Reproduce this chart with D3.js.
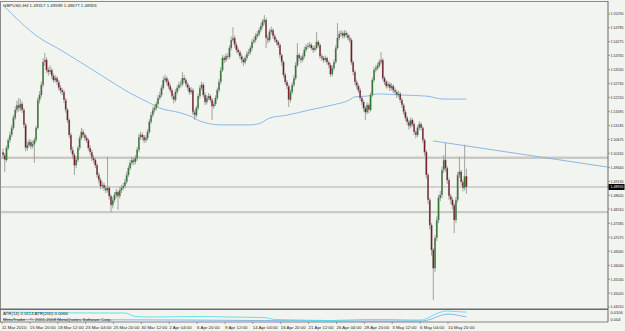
<!DOCTYPE html>
<html><head><meta charset="utf-8">
<script src="https://cdn.jsdelivr.net/npm/d3@7/dist/d3.min.js"></script>
<style>html,body{margin:0;padding:0;background:#f2f4f0;}svg{display:block;}</style>
</head><body><svg id="c" width="625" height="331"></svg>
<script>
const chartTitle = "GBPUSD,H4";
const headerOHLC = ["1.49317", "1.49599", "1.48677", "1.48926"];
const timeLabels = ["11 Mar 2010","15 Mar 20:00","18 Mar 12:00","23 Mar 04:00","25 Mar 20:00","30 Mar 12:00","2 Apr 04:00","6 Apr 20:00","9 Apr 12:00","14 Apr 04:00","16 Apr 20:00","21 Apr 12:00","26 Apr 04:00","28 Apr 20:00","3 May 12:00","6 May 04:00","10 May 20:00"];
const timeLabelBars = [0,16,32,48,64,80,96,112,128,144,160,176,192,208,224,240,256];
const priceTicks = [1.55290,1.54785,1.54275,1.53765,1.53240,1.52730,1.52220,1.51695,1.51185,1.50675,1.50165,1.49640,1.49130,1.48620,1.48110,1.47585,1.47075,1.46565,1.46040,1.45530,1.45020,1.44510];
const bidPrice = 1.48926;
const levelLines = [1.5000, 1.4800];
const trendBars = [247, 300];
const trendPrices = [1.5062, 1.5011];

const opens = [1.5020,1.5010,1.4992,1.5036,1.5065,1.5084,1.5110,1.5147,1.5176,1.5194,
1.5183,1.5198,1.5176,1.5121,1.5036,1.5047,1.5058,1.5043,1.5050,1.5065,
1.5110,1.5213,1.5231,1.5268,1.5352,1.5360,1.5323,1.5316,1.5323,1.5301,
1.5286,1.5293,1.5279,1.5257,1.5249,1.5242,1.5213,1.5176,1.5139,1.5084,
1.5029,1.5010,1.4973,1.4992,1.5036,1.5073,1.5095,1.5084,1.5073,1.5065,
1.5036,1.5021,1.4999,1.4992,1.4973,1.4937,1.4918,1.4896,1.4900,1.4889,
1.4881,1.4889,1.4859,1.4826,1.4845,1.4863,1.4874,1.4859,1.4881,1.4889,
1.4896,1.4911,1.4937,1.4962,1.4981,1.4992,1.4985,1.4999,1.5029,1.5076,
1.5084,1.5076,1.5065,1.5073,1.5095,1.5132,1.5157,1.5176,1.5183,1.5198,
1.5220,1.5231,1.5257,1.5286,1.5293,1.5279,1.5264,1.5249,1.5227,1.5213,
1.5242,1.5257,1.5268,1.5271,1.5293,1.5286,1.5271,1.5257,1.5242,1.5249,
1.5168,1.5157,1.5183,1.5227,1.5257,1.5268,1.5231,1.5205,1.5220,1.5227,
1.5213,1.5190,1.5198,1.5220,1.5249,1.5279,1.5323,1.5367,1.5360,1.5374,
1.5371,1.5404,1.5433,1.5441,1.5415,1.5397,1.5389,1.5374,1.5360,1.5352,
1.5367,1.5382,1.5389,1.5404,1.5426,1.5433,1.5448,1.5455,1.5470,1.5485,
1.5500,1.5507,1.5441,1.5433,1.5463,1.5470,1.5448,1.5433,1.5426,1.5415,
1.5378,1.5352,1.5305,1.5279,1.5264,1.5213,1.5242,1.5268,1.5293,1.5341,
1.5378,1.5367,1.5360,1.5374,1.5397,1.5408,1.5411,1.5415,1.5404,1.5397,
1.5404,1.5426,1.5415,1.5374,1.5367,1.5360,1.5367,1.5352,1.5341,1.5308,
1.5330,1.5352,1.5404,1.5441,1.5455,1.5459,1.5448,1.5459,1.5452,1.5441,
1.5433,1.5352,1.5316,1.5279,1.5264,1.5249,1.5220,1.5205,1.5183,1.5168,
1.5194,1.5176,1.5231,1.5286,1.5323,1.5330,1.5338,1.5352,1.5360,1.5293,
1.5279,1.5264,1.5271,1.5257,1.5264,1.5249,1.5242,1.5231,1.5235,1.5213,
1.5194,1.5168,1.5147,1.5132,1.5117,1.5139,1.5124,1.5095,1.5084,1.5110,
1.5124,1.5110,1.5065,1.5021,1.4937,1.4845,1.4752,1.4661,1.4594,1.4705,
1.4771,1.4852,1.4863,1.4955,1.4992,1.4962,1.4918,1.4859,1.4845,1.4826,
1.4771,1.4845,1.4937,1.4948,1.4911,1.4889,1.4932];

const closes = [1.5010,1.4992,1.5036,1.5065,1.5084,1.5110,1.5147,1.5176,1.5194,1.5183,
1.5198,1.5176,1.5121,1.5036,1.5047,1.5058,1.5043,1.5050,1.5065,1.5110,
1.5213,1.5231,1.5268,1.5352,1.5360,1.5323,1.5316,1.5323,1.5301,1.5286,
1.5293,1.5279,1.5257,1.5249,1.5242,1.5213,1.5176,1.5139,1.5084,1.5029,
1.5010,1.4973,1.4992,1.5036,1.5073,1.5095,1.5084,1.5073,1.5065,1.5036,
1.5021,1.4999,1.4992,1.4973,1.4937,1.4918,1.4896,1.4900,1.4889,1.4881,
1.4889,1.4859,1.4826,1.4845,1.4863,1.4874,1.4859,1.4881,1.4889,1.4896,
1.4911,1.4937,1.4962,1.4981,1.4992,1.4985,1.4999,1.5029,1.5076,1.5084,
1.5076,1.5065,1.5073,1.5095,1.5132,1.5157,1.5176,1.5183,1.5198,1.5220,
1.5231,1.5257,1.5286,1.5293,1.5279,1.5264,1.5249,1.5227,1.5213,1.5242,
1.5257,1.5268,1.5271,1.5293,1.5286,1.5271,1.5257,1.5242,1.5249,1.5168,
1.5157,1.5183,1.5227,1.5257,1.5268,1.5231,1.5205,1.5220,1.5227,1.5213,
1.5190,1.5198,1.5220,1.5249,1.5279,1.5323,1.5367,1.5360,1.5374,1.5371,
1.5404,1.5433,1.5441,1.5415,1.5397,1.5389,1.5374,1.5360,1.5352,1.5367,
1.5382,1.5389,1.5404,1.5426,1.5433,1.5448,1.5455,1.5470,1.5485,1.5500,
1.5507,1.5441,1.5433,1.5463,1.5470,1.5448,1.5433,1.5426,1.5415,1.5378,
1.5352,1.5305,1.5279,1.5264,1.5213,1.5242,1.5268,1.5293,1.5341,1.5378,
1.5367,1.5360,1.5374,1.5397,1.5408,1.5411,1.5415,1.5404,1.5397,1.5404,
1.5426,1.5415,1.5374,1.5367,1.5360,1.5367,1.5352,1.5341,1.5308,1.5330,
1.5352,1.5404,1.5441,1.5455,1.5459,1.5448,1.5459,1.5452,1.5441,1.5433,
1.5352,1.5316,1.5279,1.5264,1.5249,1.5220,1.5205,1.5183,1.5168,1.5194,
1.5176,1.5231,1.5286,1.5323,1.5330,1.5338,1.5352,1.5360,1.5293,1.5279,
1.5264,1.5271,1.5257,1.5264,1.5249,1.5242,1.5231,1.5235,1.5213,1.5194,
1.5168,1.5147,1.5132,1.5117,1.5139,1.5124,1.5095,1.5084,1.5110,1.5124,
1.5110,1.5065,1.5021,1.4937,1.4845,1.4752,1.4661,1.4594,1.4705,1.4771,
1.4852,1.4863,1.4955,1.4992,1.4962,1.4918,1.4859,1.4845,1.4826,1.4771,
1.4845,1.4937,1.4948,1.4911,1.4889,1.4932,1.4893];

const highs = [1.5034,1.5018,1.5045,1.5074,1.5096,1.5121,1.5158,1.5189,1.5210,1.5220,
1.5216,1.5207,1.5184,1.5128,1.5060,1.5070,1.5066,1.5062,1.5074,1.5118,
1.5222,1.5245,1.5280,1.5366,1.5386,1.5370,1.5334,1.5340,1.5330,1.5310,
1.5304,1.5300,1.5286,1.5268,1.5258,1.5250,1.5220,1.5183,1.5146,1.5092,
1.5040,1.5018,1.5004,1.5044,1.5082,1.5110,1.5106,1.5092,1.5082,1.5072,
1.5046,1.5030,1.5010,1.5000,1.4980,1.4946,1.4926,1.4912,1.4908,1.4898,
1.5003,1.4896,1.4866,1.4856,1.4874,1.4886,1.4880,1.4892,1.4900,1.4908,
1.4922,1.4948,1.4972,1.4992,1.5004,1.5000,1.5010,1.5040,1.5088,1.5096,
1.5092,1.5084,1.5084,1.5106,1.5142,1.5168,1.5188,1.5196,1.5208,1.5232,
1.5244,1.5268,1.5298,1.5305,1.5300,1.5288,1.5272,1.5256,1.5236,1.5252,
1.5268,1.5280,1.5284,1.5316,1.5304,1.5294,1.5278,1.5266,1.5260,1.5256,
1.5176,1.5192,1.5236,1.5266,1.5280,1.5276,1.5240,1.5230,1.5238,1.5234,
1.5220,1.5208,1.5230,1.5258,1.5290,1.5334,1.5378,1.5376,1.5384,1.5384,
1.5414,1.5446,1.5481,1.5450,1.5424,1.5406,1.5396,1.5382,1.5368,1.5376,
1.5392,1.5400,1.5414,1.5436,1.5444,1.5458,1.5466,1.5480,1.5496,1.5510,
1.5525,1.5514,1.5452,1.5474,1.5482,1.5476,1.5456,1.5440,1.5432,1.5422,
1.5384,1.5358,1.5312,1.5286,1.5270,1.5252,1.5278,1.5304,1.5352,1.5422,
1.5386,1.5376,1.5384,1.5408,1.5418,1.5422,1.5426,1.5422,1.5412,1.5414,
1.5463,1.5434,1.5420,1.5382,1.5374,1.5376,1.5372,1.5358,1.5348,1.5340,
1.5362,1.5414,1.5496,1.5466,1.5470,1.5466,1.5470,1.5468,1.5460,1.5450,
1.5440,1.5358,1.5322,1.5288,1.5272,1.5256,1.5228,1.5212,1.5190,1.5204,
1.5200,1.5240,1.5296,1.5334,1.5342,1.5350,1.5362,1.5389,1.5366,1.5300,
1.5286,1.5282,1.5278,1.5274,1.5270,1.5258,1.5250,1.5246,1.5242,1.5220,
1.5200,1.5176,1.5154,1.5140,1.5148,1.5146,1.5130,1.5102,1.5120,1.5134,
1.5130,1.5116,1.5072,1.5028,1.4944,1.4852,1.4760,1.4668,1.4716,1.4784,
1.4864,1.4878,1.4968,1.5010,1.5054,1.4970,1.4926,1.4868,1.4854,1.4834,
1.4856,1.4948,1.5003,1.4956,1.4920,1.5048,1.4960];

const lows = [1.4996,1.4948,1.4985,1.5028,1.5055,1.5076,1.5102,1.5139,1.5166,1.5170,
1.5172,1.5165,1.5110,1.5024,1.5026,1.5040,1.5032,1.5034,1.4981,1.5058,
1.5104,1.5200,1.5222,1.5260,1.5338,1.5312,1.5302,1.5308,1.5290,1.5276,
1.5278,1.5268,1.5248,1.5236,1.5230,1.5202,1.5166,1.5128,1.5072,1.5018,
1.4996,1.4937,1.4962,1.4984,1.5028,1.5064,1.5074,1.5062,1.5054,1.5026,
1.5010,1.4988,1.4980,1.4962,1.4926,1.4906,1.4884,1.4886,1.4878,1.4870,
1.4872,1.4846,1.4800,1.4814,1.4836,1.4852,1.4808,1.4850,1.4870,1.4880,
1.4888,1.4904,1.4930,1.4954,1.4972,1.4974,1.4976,1.4990,1.5020,1.5066,
1.5064,1.5054,1.5056,1.5064,1.5088,1.5124,1.5148,1.5166,1.5174,1.5190,
1.5212,1.5224,1.5250,1.5278,1.5268,1.5254,1.5240,1.5218,1.5200,1.5206,
1.5234,1.5248,1.5258,1.5262,1.5276,1.5262,1.5248,1.5232,1.5234,1.5158,
1.5139,1.5148,1.5176,1.5218,1.5248,1.5222,1.5194,1.5196,1.5212,1.5204,
1.5139,1.5180,1.5190,1.5212,1.5240,1.5270,1.5316,1.5348,1.5352,1.5362,
1.5364,1.5396,1.5426,1.5404,1.5386,1.5378,1.5364,1.5348,1.5338,1.5344,
1.5358,1.5374,1.5380,1.5396,1.5418,1.5424,1.5440,1.5446,1.5462,1.5476,
1.5490,1.5404,1.5420,1.5426,1.5454,1.5438,1.5424,1.5414,1.5404,1.5366,
1.5338,1.5294,1.5268,1.5252,1.5187,1.5204,1.5234,1.5260,1.5286,1.5334,
1.5356,1.5348,1.5352,1.5366,1.5390,1.5400,1.5404,1.5396,1.5386,1.5390,
1.5398,1.5406,1.5364,1.5356,1.5350,1.5352,1.5342,1.5330,1.5297,1.5300,
1.5322,1.5346,1.5398,1.5432,1.5446,1.5438,1.5440,1.5442,1.5432,1.5424,
1.5342,1.5304,1.5268,1.5254,1.5238,1.5210,1.5194,1.5170,1.5139,1.5160,
1.5164,1.5170,1.5224,1.5278,1.5314,1.5322,1.5330,1.5344,1.5284,1.5268,
1.5254,1.5256,1.5246,1.5248,1.5238,1.5232,1.5220,1.5222,1.5202,1.5184,
1.5158,1.5136,1.5120,1.5104,1.5108,1.5114,1.5084,1.5072,1.5076,1.5102,
1.5100,1.5054,1.5008,1.4924,1.4830,1.4736,1.4640,1.4477,1.4580,1.4694,
1.4760,1.4840,1.4852,1.4944,1.4950,1.4904,1.4846,1.4830,1.4810,1.4723,
1.4760,1.4836,1.4926,1.4898,1.4876,1.4880,1.4868];

const maBars = [0,21,33,56,73,84,90,102,110,113,125,142,148,153,163,176,189,199,202,209,216,228,243,253,266];
const maValues = [1.5562,1.5441,1.5397,1.5305,1.5238,1.5202,1.5183,1.5165,1.5146,1.5135,1.5121,1.5121,1.5128,1.5146,1.5157,1.5176,1.5194,1.5213,1.5224,1.5227,1.5235,1.5231,1.5227,1.5216,1.5216];

const atrFastLabel = "ATR(14) 0.0114";
const atrSlowLabel = "ATR(200) 0.0066";
const atrFastBars = [0,21,56,70,76,84,113,130,150,156,170,188,208,222,234,240,245,249,255,259,266];
const atrFastValues = [0.0115,0.0110,0.0106,0.0106,0.0073,0.0068,0.0073,0.0068,0.0063,0.0045,0.0040,0.0035,0.0045,0.0045,0.0040,0.0040,0.0068,0.0101,0.0125,0.0120,0.0114];
const atrSlowBars = [0,100,200,240,246,251,256,262,266];
const atrSlowValues = [0.0045,0.0040,0.0031,0.0031,0.0049,0.0082,0.0096,0.0082,0.0068];
const atrTicks = ["0.0106", "0.004"];
const atrTickValues = [0.0106, 0.004];
const copyright = "MetaTrader - \u00a9, 2001-2008 MetaQuotes Software Corp.";

// ---------- drawing ----------
const W = 625, H = 331;
const plotL = 1, plotR = 608, plotT = 2, plotB = 308.5, indT = 310, indB = 322;
const FONT = "Liberation Sans, Arial, sans-serif";
const FS = 4.4;
const svg = d3.select("#c");
svg.append("rect").attr("width", W).attr("height", H).attr("fill", "#f2f4f0");

const bars = closes.map((c, i) => ({i, o: opens[i], h: highs[i], l: lows[i], c}));
const x = d3.scaleLinear().domain([0, 347]).range([3, 607.5]);
const y = d3.scaleLinear().domain([1.44510, 1.55290]).range([307, 14]);
const ya = d3.scaleLinear().domain([0.004, 0.0106]).range([320, 313]);

svg.append("clipPath").attr("id", "pc").append("rect")
  .attr("x", plotL).attr("y", plotT).attr("width", plotR - plotL).attr("height", plotB - plotT);
svg.append("clipPath").attr("id", "ic").append("rect")
  .attr("x", plotL).attr("y", indT).attr("width", plotR - plotL).attr("height", indB - indT);

const main = svg.append("g").attr("clip-path", "url(#pc)");

// horizontal level lines
main.selectAll(".lvl").data(levelLines).join("line")
  .attr("x1", plotL).attr("x2", plotR).attr("y1", d => y(d)).attr("y2", d => y(d))
  .attr("stroke", "#c9c9c6").attr("stroke-width", 2.4);
main.append("line").attr("x1", plotL).attr("x2", plotR).attr("y1", y(bidPrice)).attr("y2", y(bidPrice))
  .attr("stroke", "#a9a9a6").attr("stroke-width", 0.9);

// moving average
main.append("path")
  .datum(maBars.map((b, k) => [b, maValues[k]]))
  .attr("fill", "none").attr("stroke", "#7fb2e8").attr("stroke-width", 0.9)
  .attr("d", d3.line().x(d => x(d[0])).y(d => y(d[1])).curve(d3.curveMonotoneX));

// trend line (ray to the right)
const slope = (trendPrices[1] - trendPrices[0]) / (trendBars[1] - trendBars[0]);
const endBar = x.domain()[1];
main.append("line")
  .attr("x1", x(trendBars[0])).attr("y1", y(trendPrices[0]))
  .attr("x2", x(endBar)).attr("y2", y(trendPrices[0] + slope * (endBar - trendBars[0])))
  .attr("stroke", "#86aee0").attr("stroke-width", 0.9);

// candles
const cg = main.append("g");
cg.selectAll(".wick").data(bars).join("line")
  .attr("x1", d => x(d.i)).attr("x2", d => x(d.i))
  .attr("y1", d => y(d.h)).attr("y2", d => y(d.l))
  .attr("stroke", "#9a9a9a").attr("stroke-width", 0.9);
cg.selectAll(".body").data(bars).join("rect")
  .attr("x", d => x(d.i) - 0.75).attr("width", 1.5)
  .attr("y", d => y(Math.max(d.o, d.c)))
  .attr("height", d => Math.max(0.6, Math.abs(y(d.o) - y(d.c))))
  .attr("fill", d => d.c >= d.o ? "#2f7a2f" : "#7a1b2c")
  .attr("stroke", "#8a8a8a").attr("stroke-width", 0.25);

// indicator pane
const ind = svg.append("g").attr("clip-path", "url(#ic)");
ind.append("path")
  .datum(atrSlowBars.map((b, k) => [b, atrSlowValues[k]]))
  .attr("fill", "none").attr("stroke", "#6aa6ea").attr("stroke-width", 0.8)
  .attr("d", d3.line().x(d => x(d[0])).y(d => ya(d[1])).curve(d3.curveMonotoneX));
ind.append("path")
  .datum(atrFastBars.map((b, k) => [b, atrFastValues[k]]))
  .attr("fill", "none").attr("stroke", "#3fdcef").attr("stroke-width", 0.8)
  .attr("d", d3.line().x(d => x(d[0])).y(d => ya(d[1])).curve(d3.curveMonotoneX));

// frames
svg.append("line").attr("x1", 0.5).attr("x2", 0.5).attr("y1", 1).attr("y2", indB).attr("stroke", "#8a8a8a").attr("stroke-width", 1);
svg.append("line").attr("x1", 0).attr("x2", plotR).attr("y1", 1.5).attr("y2", 1.5).attr("stroke", "#8a8a8a").attr("stroke-width", 1);
svg.append("line").attr("x1", plotR).attr("x2", plotR).attr("y1", 1).attr("y2", indB).attr("stroke", "#6a6a6a").attr("stroke-width", 1);
svg.append("line").attr("x1", 0).attr("x2", plotR).attr("y1", 309.2).attr("y2", 309.2).attr("stroke", "#6a6a6a").attr("stroke-width", 1.6);
svg.append("line").attr("x1", 0).attr("x2", plotR).attr("y1", indB).attr("y2", indB).attr("stroke", "#6a6a6a").attr("stroke-width", 0.8);

const txt = (g) => g.attr("font-family", FONT).attr("font-size", FS).attr("fill", "#2a2a2a");

// price axis
const pa = svg.append("g");
pa.selectAll("line").data(priceTicks).join("line")
  .attr("x1", plotR).attr("x2", plotR + 2).attr("y1", d => y(d)).attr("y2", d => y(d))
  .attr("stroke", "#6a6a6a").attr("stroke-width", 0.6);
pa.selectAll("text").data(priceTicks).join("text")
  .attr("x", plotR + 2.5).attr("y", d => y(d)).attr("dy", "0.35em")
  .text(d => d.toFixed(5)).call(txt).attr("font-size", 4)
  .attr("textLength", 13).attr("lengthAdjust", "spacingAndGlyphs");
// bid box
svg.append("rect").attr("x", plotR + 0.5).attr("y", y(bidPrice) - 3).attr("width", 16).attr("height", 6).attr("fill", "#000");
svg.append("text").attr("x", plotR + 2.5).attr("y", y(bidPrice)).attr("dy", "0.35em").text(bidPrice.toFixed(5))
  .call(txt).attr("font-size", 4).attr("textLength", 13).attr("lengthAdjust", "spacingAndGlyphs").attr("fill", "#fff");

// indicator axis
svg.selectAll(".at").data(atrTickValues).join("text")
  .attr("x", plotR + 2.5).attr("y", d => ya(d)).attr("dy", "0.35em")
  .text((d, k) => atrTicks[k]).call(txt).attr("font-size", 4);

// time axis
const ta = svg.append("g");
ta.selectAll("line").data(timeLabelBars).join("line")
  .attr("x1", d => x(d) - 1).attr("x2", d => x(d) - 1).attr("y1", indB).attr("y2", indB + 2)
  .attr("stroke", "#6a6a6a").attr("stroke-width", 0.6);
ta.selectAll("text").data(timeLabelBars).join("text")
  .attr("x", d => x(d) - 1).attr("y", 328.5)
  .text((d, k) => timeLabels[k]).call(txt);

// header texts
svg.append("text").attr("x", 3).attr("y", 7).text(chartTitle + "  " + headerOHLC.join(" ")).call(txt);
svg.append("text").attr("x", 3).attr("y", 315).text(atrFastLabel + "  " + atrSlowLabel).call(txt);
svg.append("text").attr("x", 3).attr("y", 320.5).text(copyright).call(txt);
</script></body></html>
